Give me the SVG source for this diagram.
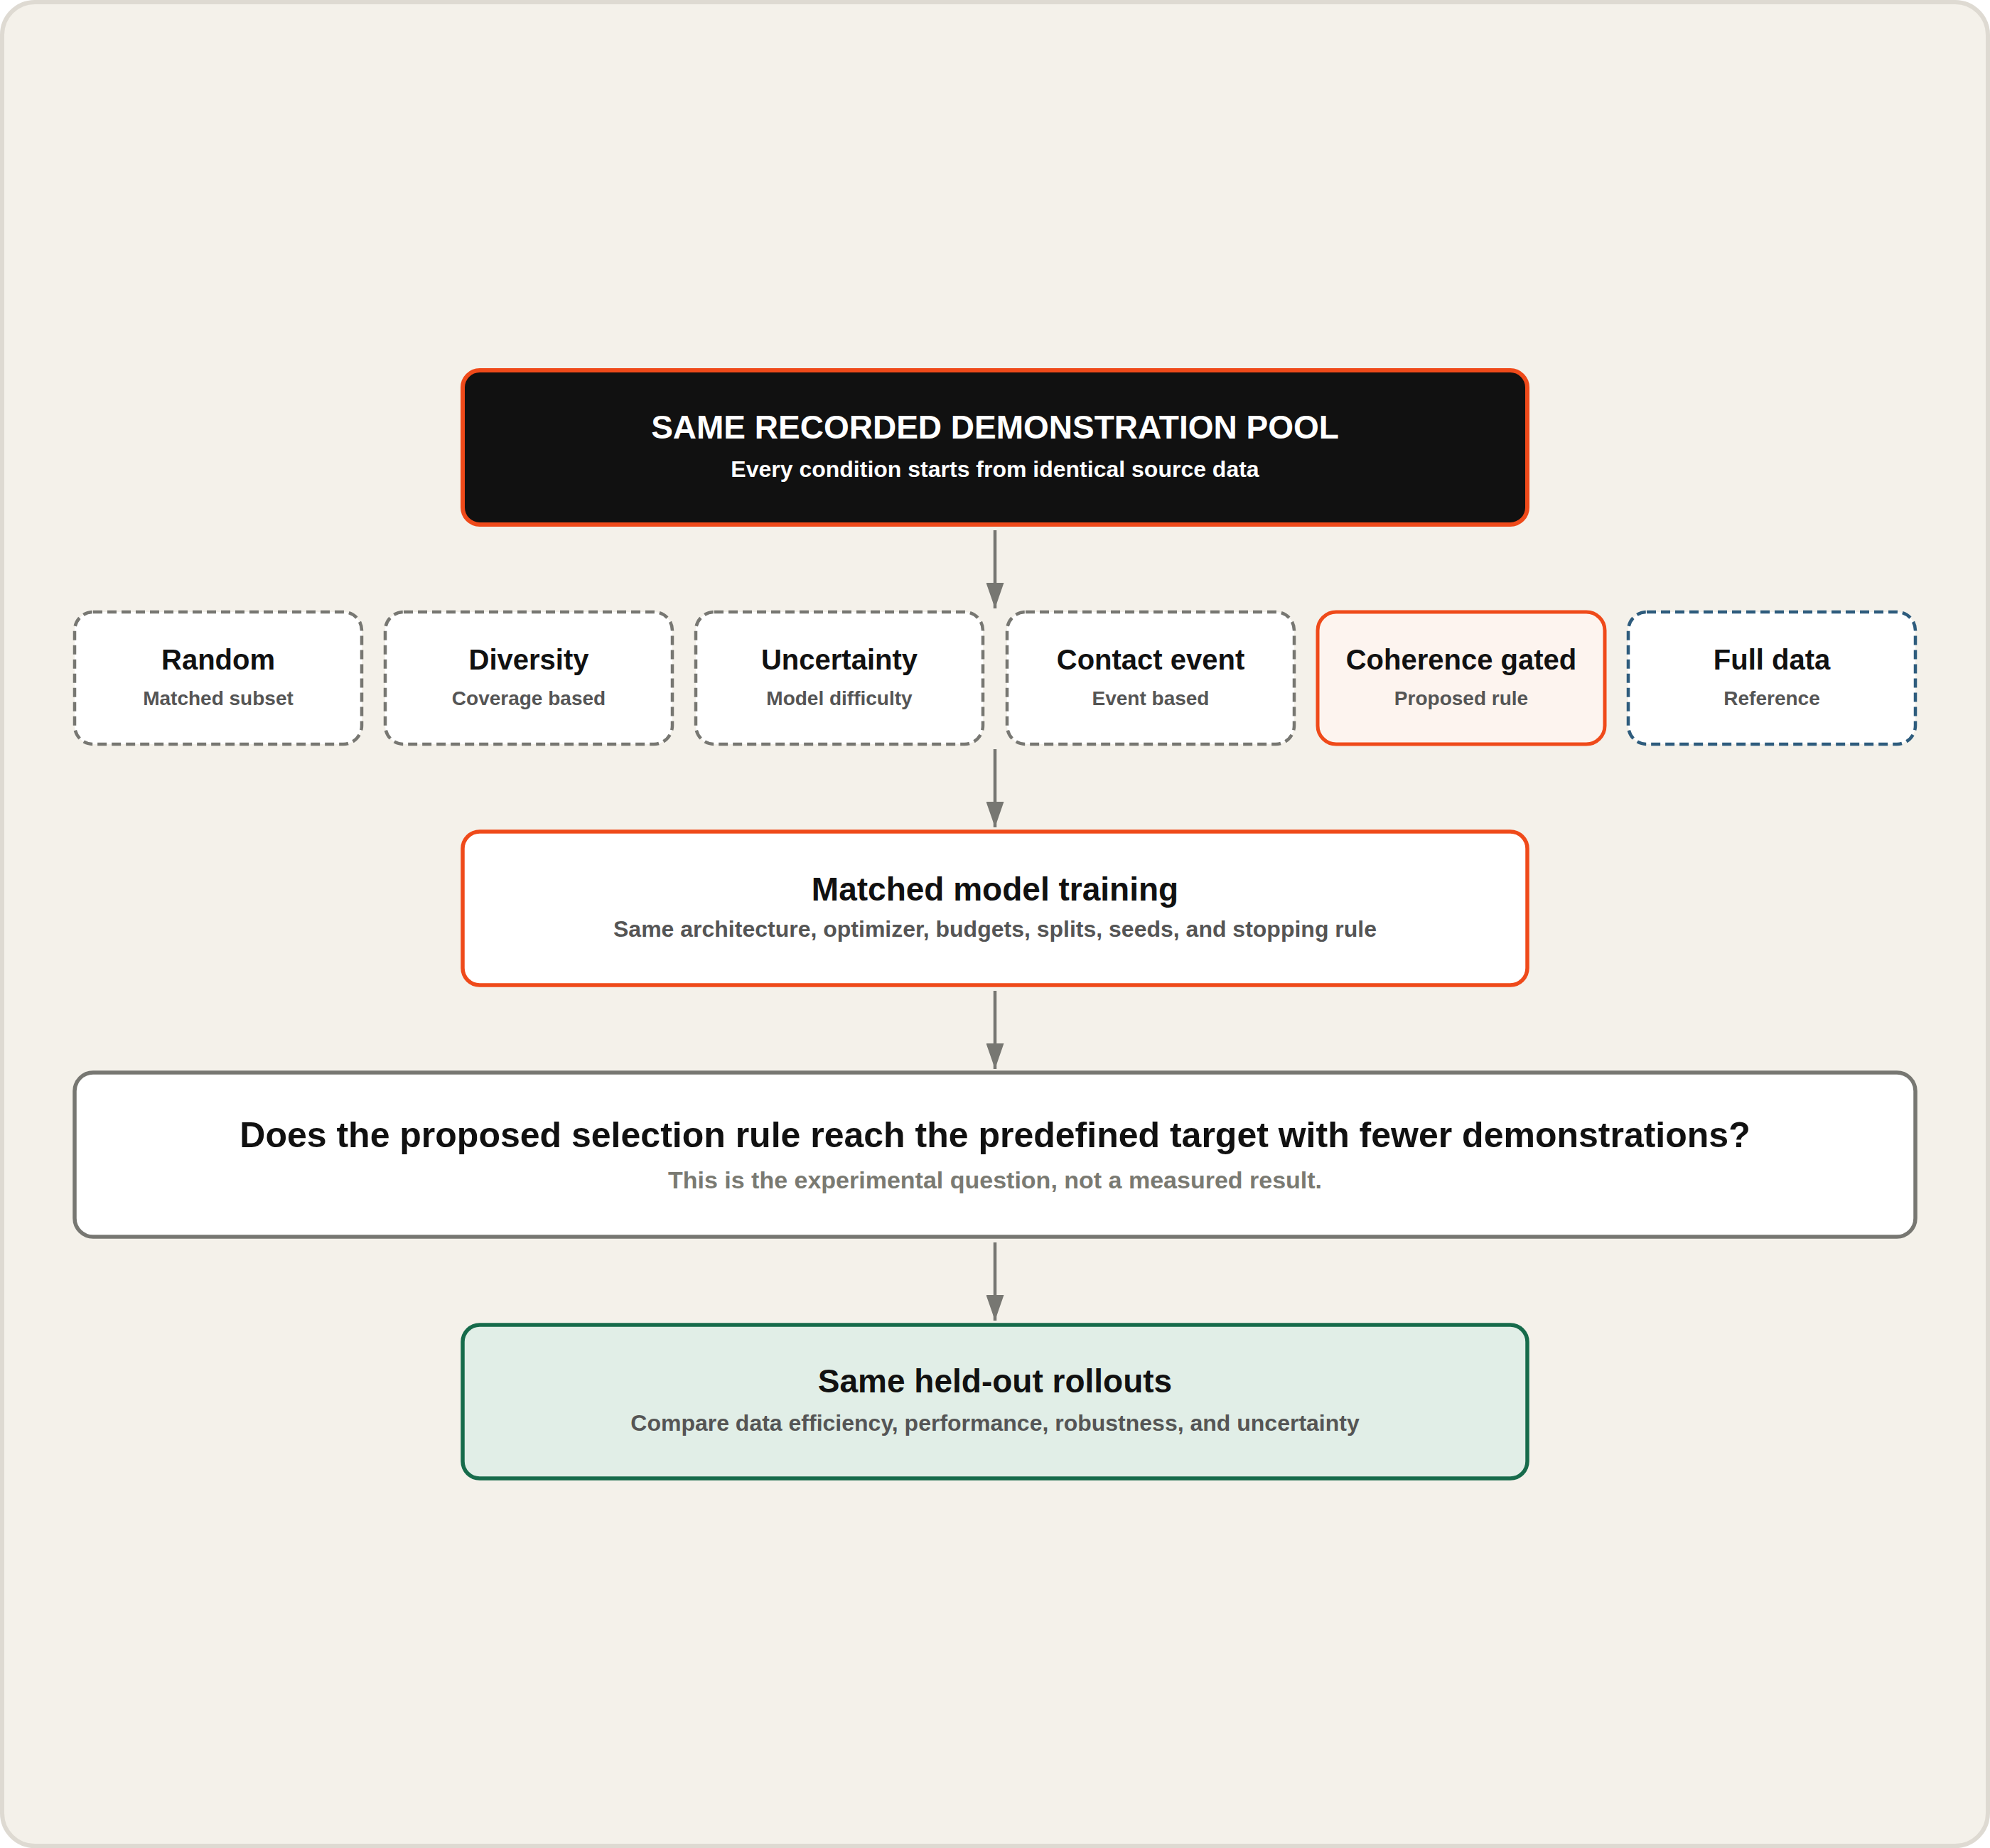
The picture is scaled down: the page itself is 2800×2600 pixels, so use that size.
<svg xmlns="http://www.w3.org/2000/svg" width="2800" height="2600" viewBox="0 0 2800 2600">
  <style>
    text { font-family: "Liberation Sans", Arial, Helvetica, sans-serif; font-weight: bold; text-anchor: middle; }
    .big { fill: #111111; }
    .t46 { font-size: 46px; }
    .t40 { font-size: 40px; }
    .t50 { font-size: 50px; }
    .s32 { font-size: 32px; fill: #555555; }
    .s28 { font-size: 28px; fill: #555555; }
    .opt { fill: #ffffff; stroke: #777772; stroke-width: 4.5; stroke-dasharray: 13 7; }
    .edge { stroke: #777772; stroke-width: 4.5; fill: none; }
  </style>
  <defs>
    <marker id="arrow" viewBox="0 0 36 25" refX="36" refY="12.5" markerWidth="36" markerHeight="25" markerUnits="userSpaceOnUse" orient="auto">
      <path d="M0,0 L36,12.5 L0,25 Z" fill="#777772"/>
    </marker>
  </defs>

  <rect x="3" y="3" width="2794" height="2594" rx="46" fill="#f4f1ea" stroke="#dedad2" stroke-width="6"/>

  <g id="connectors">
    <line class="edge" x1="1400" y1="746" x2="1400" y2="856" marker-end="url(#arrow)"/>
    <line class="edge" x1="1400" y1="1054" x2="1400" y2="1164" marker-end="url(#arrow)"/>
    <line class="edge" x1="1400" y1="1394" x2="1400" y2="1504" marker-end="url(#arrow)"/>
    <line class="edge" x1="1400" y1="1748" x2="1400" y2="1858" marker-end="url(#arrow)"/>
  </g>

  <g id="pool">
    <rect x="651" y="521" width="1498" height="217" rx="24" fill="#111111" stroke="#ef4a1a" stroke-width="6"/>
    <text x="1400" y="617" class="t46" fill="#ffffff">SAME RECORDED DEMONSTRATION POOL</text>
    <text x="1400" y="671" font-size="32" fill="#ffffff">Every condition starts from identical source data</text>
  </g>

  <g id="random">
    <rect class="opt" x="105" y="861" width="404" height="186" rx="26"/>
    <text x="307" y="942" class="t40 big">Random</text>
    <text x="307" y="992" class="s28">Matched subset</text>
  </g>
  <g id="diversity">
    <rect class="opt" x="542" y="861" width="404" height="186" rx="26"/>
    <text x="744" y="942" class="t40 big">Diversity</text>
    <text x="744" y="992" class="s28">Coverage based</text>
  </g>
  <g id="uncertainty">
    <rect class="opt" x="979" y="861" width="404" height="186" rx="26"/>
    <text x="1181" y="942" class="t40 big">Uncertainty</text>
    <text x="1181" y="992" class="s28">Model difficulty</text>
  </g>
  <g id="contact">
    <rect class="opt" x="1417" y="861" width="404" height="186" rx="26"/>
    <text x="1619" y="942" class="t40 big">Contact event</text>
    <text x="1619" y="992" class="s28">Event based</text>
  </g>
  <g id="coherence">
    <rect x="1854" y="861" width="404" height="186" rx="26" fill="#fdf4ef" stroke="#ef4a1a" stroke-width="5"/>
    <text x="2056" y="942" class="t40 big">Coherence gated</text>
    <text x="2056" y="992" class="s28">Proposed rule</text>
  </g>
  <g id="fulldata">
    <rect x="2291" y="861" width="404" height="186" rx="26" fill="#ffffff" stroke="#2e5c7d" stroke-width="4.5" stroke-dasharray="13 7"/>
    <text x="2493" y="942" class="t40 big">Full data</text>
    <text x="2493" y="992" class="s28">Reference</text>
  </g>

  <g id="training">
    <rect x="651" y="1170" width="1498" height="216" rx="24" fill="#ffffff" stroke="#ef4a1a" stroke-width="5.5"/>
    <text x="1400" y="1267" class="t46 big">Matched model training</text>
    <text x="1400" y="1318" class="s32">Same architecture, optimizer, budgets, splits, seeds, and stopping rule</text>
  </g>

  <g id="question">
    <rect x="105" y="1509" width="2590" height="231" rx="26" fill="#ffffff" stroke="#777772" stroke-width="5.5"/>
    <text x="1400" y="1614" class="t50 big">Does the proposed selection rule reach the predefined target with fewer demonstrations?</text>
    <text x="1400" y="1672" font-size="34" fill="#7a7a72">This is the experimental question, not a measured result.</text>
  </g>

  <g id="rollouts">
    <rect x="651" y="1864" width="1498" height="216" rx="24" fill="#e1eee7" stroke="#166b4b" stroke-width="5.5"/>
    <text x="1400" y="1959" class="t46 big">Same held-out rollouts</text>
    <text x="1400" y="2013" class="s32">Compare data efficiency, performance, robustness, and uncertainty</text>
  </g>
</svg>
